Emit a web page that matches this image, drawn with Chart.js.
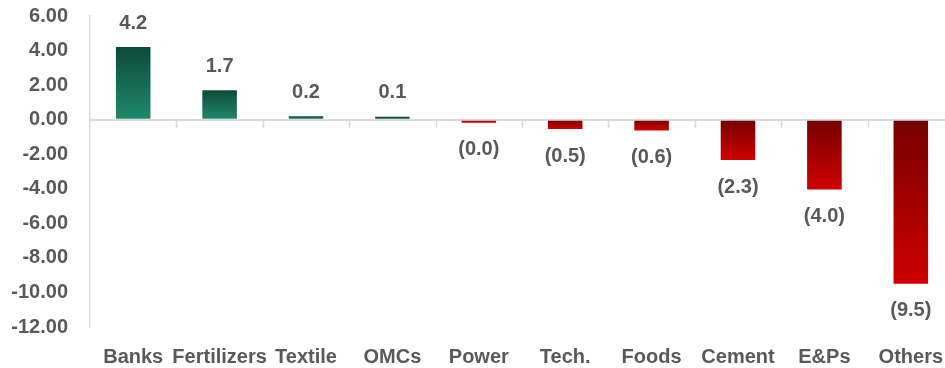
<!DOCTYPE html>
<html>
<head>
<meta charset="utf-8">
<script src="https://cdn.jsdelivr.net/npm/chart.js@4"></script>
<style>
  html, body { margin: 0; padding: 0; background: #fff; overflow: hidden; }
  .sector-chart { position: relative; width: 956px; height: 368px; }
</style>
</head>
<body>
<div class="sector-chart">
  <canvas id="chart"></canvas>
</div>
<script>
// sector contribution (pts)
const sectors = ['Banks', 'Fertilizers', 'Textile', 'OMCs', 'Power', 'Tech.', 'Foods', 'Cement', 'E&Ps', 'Others'];
const contribution = [4.2, 1.7, 0.2, 0.1, -0.04, -0.54, -0.62, -2.34, -4.04, -9.5];
const yTicks = [-12, -10, -8, -6, -4, -2, 0, 2, 4, 6];

const FONT = "'Liberation Sans Narrow', 'Arial Narrow', Arial, sans-serif";
const TEXT = '#595959';
const LINE = '#d9d9d9';

// gradient per bar, dark at the top edge
function barFill(context) {
  const chart = context.chart;
  if (!chart.chartArea) return '#1e8a6c';
  const y = chart.scales.y;
  const v = context.raw;
  const p0 = y.getPixelForValue(0);
  const p1 = y.getPixelForValue(v);
  const top = Math.min(p0, p1), bottom = Math.max(p0, p1) + 0.01;
  const g = chart.ctx.createLinearGradient(0, top, 0, bottom);
  if (v >= 0) {
    g.addColorStop(0, '#0d4a3a');
    g.addColorStop(1, '#1f8a6d');
  } else {
    g.addColorStop(0, '#760000');
    g.addColorStop(1, '#cf0000');
  }
  return g;
}

// short category ticks hanging under the zero line
const zeroTicks = {
  id: 'zeroTicks',
  beforeDatasetsDraw(chart) {
    const { ctx, scales: { x, y } } = chart;
    const y0 = y.getPixelForValue(0);
    ctx.save();
    ctx.strokeStyle = LINE;
    ctx.lineWidth = 1.5;
    ctx.beginPath();
    for (let i = 1; i < sectors.length; i++) {
      const px = Math.round((x.getPixelForTick(i - 1) + x.getPixelForTick(i)) / 2) + 0.5;
      ctx.moveTo(px, y0);
      ctx.lineTo(px, y0 + 8);
    }
    ctx.stroke();
    ctx.restore();
  }
};

// values above / below the bars, negatives in brackets
const valueLabels = {
  id: 'valueLabels',
  afterDatasetsDraw(chart) {
    const ctx = chart.ctx;
    const meta = chart.getDatasetMeta(0);
    ctx.save();
    ctx.font = 'bold 20px ' + FONT;
    ctx.fillStyle = TEXT;
    ctx.textAlign = 'center';
    ctx.textBaseline = 'middle';
    meta.data.forEach((bar, i) => {
      const v = contribution[i];
      const txt = v < 0 ? '(' + Math.abs(v).toFixed(1) + ')' : v.toFixed(1);
      ctx.fillText(txt, bar.x, v < 0 ? bar.y + 27 : bar.y - 24);
    });
    ctx.restore();
  }
};

new Chart(document.getElementById('chart'), {
  type: 'bar',
  data: {
    labels: sectors,
    datasets: [{
      data: contribution,
      backgroundColor: barFill,
      barPercentage: 0.8,
      categoryPercentage: 0.5,
      minBarLength: 3
    }]
  },
  options: {
    responsive: true,
    maintainAspectRatio: false,
    animation: false,
    layout: { padding: { top: 16, right: 2, bottom: 0, left: 0 } },
    plugins: {
      legend: { display: false },
      tooltip: { enabled: false }
    },
    scales: {
      x: {
        position: 'bottom',
        offset: true,
        grid: { display: false },
        border: { display: false },
        ticks: {
          color: TEXT,
          font: { family: FONT, size: 20, weight: 'bold' },
          padding: 10,
          maxRotation: 0,
          autoSkip: false
        },
        afterFit: s => { s.height = 41; }
      },
      y: {
        min: -12,
        max: 6,
        afterBuildTicks: s => { s.ticks = yTicks.map(v => ({ value: v })); },
        // only the zero gridline is shown
        grid: {
          drawTicks: false,
          lineWidth: 2,
          color: c => (c.tick && c.tick.value === 0 ? LINE : 'rgba(0,0,0,0)')
        },
        border: { display: true, color: LINE, width: 1.5 },
        ticks: {
          color: TEXT,
          font: { family: FONT, size: 20, weight: 'bold' },
          padding: 22,
          callback: v => v.toFixed(2)
        },
        // fixed axis width; label padding should not push the plot down
        afterFit: s => {
          s.width = 90;
          s.paddingTop = 12;
          s.paddingBottom = 12;
        }
      }
    }
  },
  plugins: [zeroTicks, valueLabels]
});
</script>
</body>
</html>
